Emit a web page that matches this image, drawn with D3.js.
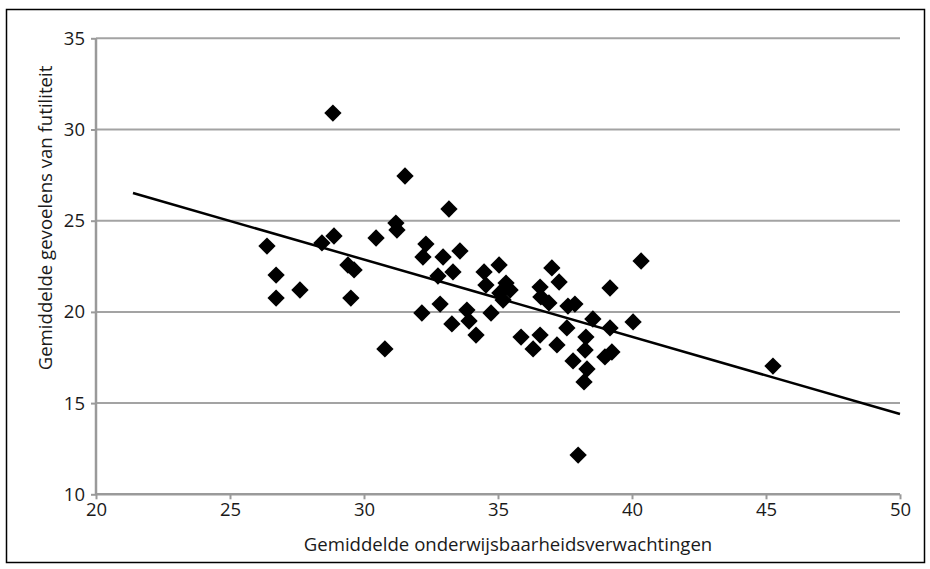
<!DOCTYPE html>
<html><head><meta charset="utf-8">
<script src="https://cdn.jsdelivr.net/npm/d3@7"></script>
<style>body{margin:0;background:#fff}svg{display:block}</style>
</head><body>
<script>
const xTicks = [20,25,30,35,40,45,50];
const yTicks = [10,15,20,25,30,35];
const xLabel = "Gemiddelde onderwijsbaarheidsverwachtingen";
const yLabel = "Gemiddelde gevoelens van futiliteit";
const xs = [28.84,26.38,26.72,26.72,27.61,28.43,28.88,29.40,29.63,29.51,30.78,30.45,31.19,31.23,31.53,33.17,32.31,32.20,32.16,32.76,32.84,32.95,33.32,33.58,33.28,33.84,33.92,34.18,34.48,34.55,34.74,35.04,35.30,35.45,35.07,35.19,35.86,36.31,36.57,37.20,37.01,37.28,36.57,36.60,36.90,37.61,37.87,38.54,37.57,38.28,37.80,38.25,38.99,39.25,38.32,38.21,37.99,39.18,39.18,40.04,40.34,45.26];
const ys = [30.90,23.61,22.02,20.76,21.20,23.78,24.16,22.57,22.30,20.76,17.97,24.05,24.87,24.49,27.45,25.64,23.72,23.01,19.94,21.97,20.43,23.01,22.19,23.34,19.34,20.10,19.50,18.73,22.19,21.47,19.94,22.57,21.58,21.20,21.04,20.65,18.62,17.97,18.73,18.19,22.41,21.64,21.36,20.82,20.49,20.32,20.43,19.61,19.12,18.62,17.31,17.91,17.53,17.80,16.87,16.16,12.15,21.31,19.12,19.45,22.79,17.03];
const trendX = [21.38, 50];
const trendY = [26.52, 14.40];

const W = 930, H = 569;
const svg = d3.select("body").append("svg").attr("width", W).attr("height", H);
const font = "'Open Sans', sans-serif";
svg.append("rect").attr("x",6.5).attr("y",9.5).attr("width",918).attr("height",553)
  .attr("fill","#fff").attr("stroke","#000").attr("stroke-width",1.5);

const x = d3.scaleLinear().domain([20,50]).range([96,900]);
const y = d3.scaleLinear().domain([10,35]).range([494.3,38.3]);
const grid = "#a3a3a3";

svg.append("g").selectAll("line").data(yTicks.filter(t=>t>10)).join("line")
  .attr("x1",x(20)).attr("x2",x(50)).attr("y1",d=>y(d)).attr("y2",d=>y(d))
  .attr("stroke",grid).attr("stroke-width",2);

const yAxis = d3.axisLeft(y).tickValues(yTicks).tickSize(5).tickPadding(6);
const gy = svg.append("g").attr("transform",`translate(${x(20)},0)`).call(yAxis);
const xAxis = d3.axisBottom(x).tickValues(xTicks).tickSize(5).tickPadding(4);
const gx = svg.append("g").attr("transform",`translate(0,${y(10)})`).call(xAxis);
[gx,gy].forEach(g=>{
  g.select(".domain").attr("stroke","#9a9a9a").attr("stroke-width",2.5);
  g.selectAll(".tick line").attr("stroke","#9a9a9a").attr("stroke-width",2);
  g.selectAll(".tick text").attr("fill","#1a1a1a").attr("font-family",font).attr("font-size",18.5);
});
gy.select(".domain").attr("d",`M0,${y(35)}V${y(10)}`);
gx.select(".domain").attr("d",`M${x(20)},0H${x(50)}`);

svg.append("line").attr("x1",x(trendX[0])).attr("y1",y(trendY[0]))
  .attr("x2",x(trendX[1])).attr("y2",y(trendY[1]))
  .attr("stroke","#000").attr("stroke-width",2.5);

const sym = d3.symbol().type(d3.symbolSquare).size(150);
svg.append("g").selectAll("path").data(xs.map((v,i)=>[v,ys[i]])).join("path")
  .attr("d",sym).attr("transform",d=>`translate(${x(d[0])},${y(d[1])}) rotate(45)`)
  .attr("fill","#000");

svg.append("text").attr("x",508).attr("y",551).attr("text-anchor","middle")
  .attr("font-family",font).attr("font-size",18.6).attr("fill","#1a1a1a").text(xLabel);
svg.append("text").attr("transform","translate(52,218) rotate(-90)").attr("text-anchor","middle")
  .attr("font-family",font).attr("font-size",18.6).attr("fill","#1a1a1a").text(yLabel);
</script>
</body></html>
